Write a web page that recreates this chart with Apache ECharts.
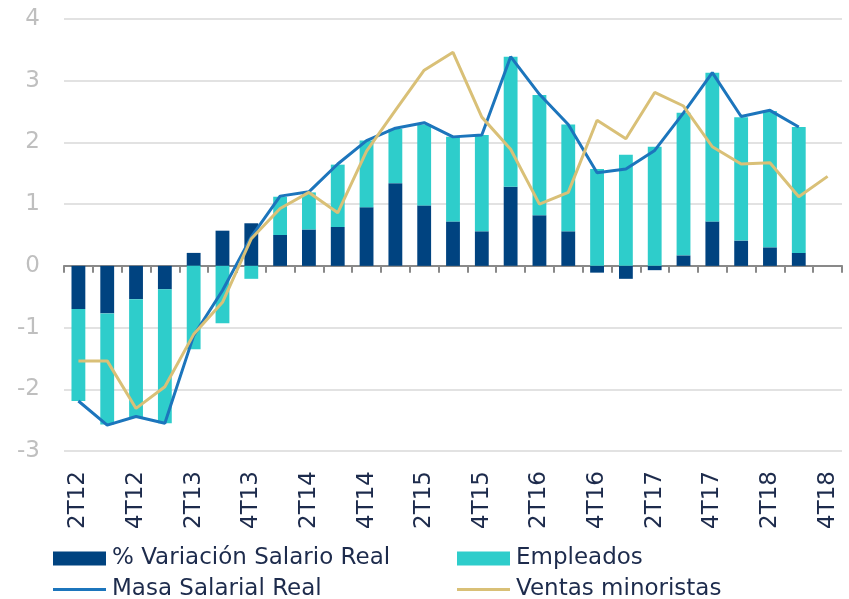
<!DOCTYPE html>
<html>
<head>
<meta charset="utf-8">
<title>Masa salarial real</title>
<script src="https://cdn.jsdelivr.net/npm/echarts@6.0.0/dist/echarts.min.js"></script>
<style>
    html, body { margin: 0; padding: 0; background: #fff; }
    .chart { width: 849px; height: 599px; }
</style>
</head>
<body>
<div class="chart"></div>
<script>
// trimestres 2T12 .. 4T18
var quarters = ['2T12', '3T12', '4T12', '1T13', '2T13', '3T13', '4T13', '1T14', '2T14', '3T14', '4T14',
    '1T15', '2T15', '3T15', '4T15', '1T16', '2T16', '3T16', '4T16', '1T17', '2T17', '3T17', '4T17',
    '1T18', '2T18', '3T18', '4T18'];
var salarioReal = [-0.70, -0.77, -0.54, -0.38, 0.21, 0.57, 0.69, 0.50, 0.59, 0.63, 0.95,
    1.34, 0.98, 0.72, 0.56, 1.28, 0.82, 0.56, -0.11, -0.21, -0.07, 0.17, 0.72,
    0.41, 0.30, 0.21, null];
var empleados = [-1.49, -1.80, -1.92, -2.17, -1.35, -0.93, -0.21, 0.62, 0.60, 1.01, 1.08,
    0.88, 1.31, 1.37, 1.56, 2.11, 1.95, 1.73, 1.57, 1.80, 1.93, 2.31, 2.41,
    2.00, 2.21, 2.04, null];
var masaSalarial = [-2.19, -2.58, -2.44, -2.55, -1.13, -0.40, 0.47, 1.13, 1.20, 1.65, 2.03,
    2.23, 2.32, 2.09, 2.12, 3.39, 2.78, 2.29, 1.51, 1.57, 1.87, 2.48, 3.13,
    2.42, 2.52, 2.25, null];
var ventas = [-1.54, -1.54, -2.31, -1.96, -1.11, -0.59, 0.44, 0.93, 1.19, 0.86, 1.86,
    2.52, 3.17, 3.46, 2.41, 1.89, 1.00, 1.19, 2.36, 2.06, 2.81, 2.59, 1.93,
    1.65, 1.67, 1.12, 1.45];

(function () {
    var myChart = echarts.init(document.querySelector('.chart'));
    var font = 'DejaVu Sans';
    var textColor = '#1d2b4c';

    // one legend per entry so the two columns line up like the original
    function legendItem(name, left, top, h) {
        return {
            left: left,
            top: top,
            icon: 'rect',
            itemWidth: 53,
            itemHeight: h,
            itemGap: 0,
            padding: 0,
            textStyle: { color: textColor, fontFamily: font, fontSize: 23, padding: [0, 0, 0, 1] },
            data: [name]
        };
    }

    var option = {
        animation: false,
        color: ['#004380', '#2ecdcb', '#1c75bc', '#d9c077'],
        grid: {
            left: 64,
            right: 7,
            top: 19,
            bottom: 148,
            containLabel: false,
            outerBoundsMode: 'none'
        },
        legend: [
            legendItem('% Variación Salario Real', 53, 547, 14),
            legendItem('Empleados', 457, 547, 14),
            legendItem('Masa Salarial Real', 53, 578, 3),
            legendItem('Ventas minoristas', 457, 578, 3)
        ],
        xAxis: [
            {
                type: 'category',
                data: quarters,
                axisLine: {
                    onZero: true,
                    lineStyle: { color: '#898989', width: 2 }
                },
                axisTick: {
                    show: true,
                    interval: 0,
                    length: 7,
                    lineStyle: { color: '#898989', width: 2 }
                },
                axisLabel: { show: false },
                splitLine: { show: false }
            },
            {
                type: 'category',
                data: quarters,
                position: 'bottom',
                axisLine: { show: false, onZero: false },
                axisTick: { show: false },
                axisLabel: {
                    interval: 1,
                    rotate: 90,
                    margin: 20,
                    color: textColor,
                    fontFamily: font,
                    fontSize: 23
                },
                splitLine: { show: false }
            }
        ],
        yAxis: {
            type: 'value',
            min: -3,
            max: 4,
            interval: 1,
            axisLine: { show: false },
            axisTick: { show: false },
            axisLabel: {
                margin: 24,
                color: '#bfbfbf',
                fontFamily: font,
                fontSize: 23
            },
            splitLine: {
                lineStyle: { color: '#d9d9d9', width: 1.5 }
            }
        },
        series: [
            {
                name: '% Variación Salario Real',
                type: 'bar',
                stack: 'masa',
                barWidth: '48%',
                data: salarioReal
            },
            {
                name: 'Empleados',
                type: 'bar',
                stack: 'masa',
                barWidth: '48%',
                data: empleados
            },
            {
                name: 'Masa Salarial Real',
                type: 'line',
                symbol: 'none',
                lineStyle: { width: 3 },
                data: masaSalarial
            },
            {
                name: 'Ventas minoristas',
                type: 'line',
                symbol: 'none',
                lineStyle: { width: 3 },
                data: ventas
            }
        ]
    };
    myChart.setOption(option);
    window.addEventListener('resize', function () {
        myChart.resize();
    });
})();
</script>
</body>
</html>
